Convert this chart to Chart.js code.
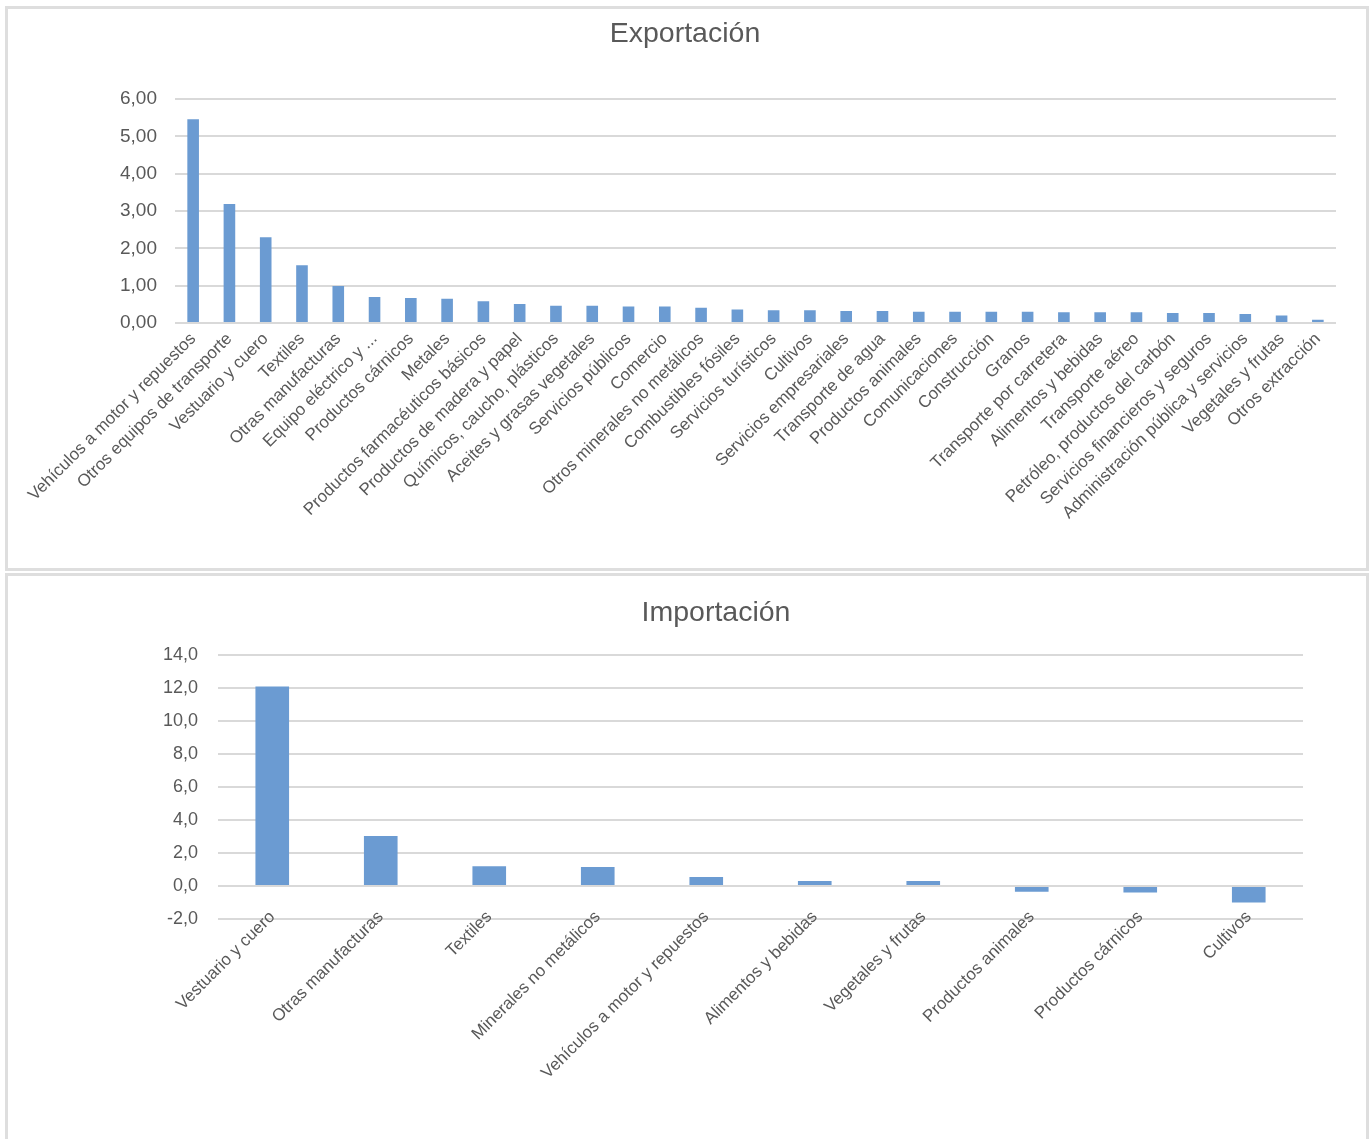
<!DOCTYPE html>
<html>
<head>
<meta charset="utf-8">
<script src="https://cdn.jsdelivr.net/npm/chart.js@4"></script>
<style>
    body { margin: 0; background: #fff; overflow: hidden; }
    .panel { position: absolute; left: 5px; width: 1364px; box-sizing: border-box; border: 3px solid #dedede; background: #fff; }
    .top { top: 6px; height: 565px; }
    .bottom { top: 573px; height: 600px; }
    .box { position: relative; width: 1358px; height: 559px; }
</style>
</head>
<body>
<div class="panel top"><div class="box"><canvas class="exp-chart"></canvas></div></div>
<div class="panel bottom"><div class="box"><canvas class="imp-chart"></canvas></div></div>
<script>
const expLabels = ['Vehículos a motor y repuestos', 'Otros equipos de transporte', 'Vestuario y cuero', 'Textiles',
    'Otras manufacturas', 'Equipo eléctrico y ...', 'Productos cárnicos', 'Metales', 'Productos farmacéuticos básicos',
    'Productos de madera y papel', 'Químicos, caucho, plásticos', 'Aceites y grasas vegetales', 'Servicios públicos',
    'Comercio', 'Otros minerales no metálicos', 'Combustibles fósiles', 'Servicios turísticos', 'Cultivos',
    'Servicios empresariales', 'Transporte de agua', 'Productos animales', 'Comunicaciones', 'Construcción', 'Granos',
    'Transporte por carretera', 'Alimentos y bebidas', 'Transporte aéreo', 'Petróleo, productos del carbón',
    'Servicios financieros y seguros', 'Administración pública y servicios', 'Vegetales y frutas', 'Otros extracción'];
const expValues = [5.46, 3.19, 2.30, 1.55, 0.99, 0.70, 0.67, 0.65, 0.58, 0.51, 0.46, 0.46, 0.44, 0.44, 0.41, 0.36,
    0.34, 0.34, 0.32, 0.32, 0.30, 0.30, 0.30, 0.30, 0.29, 0.29, 0.29, 0.27, 0.27, 0.24, 0.20, 0.09];
const expTicks = [0, 1, 2, 3, 4, 5, 6];

const impLabels = ['Vestuario y cuero', 'Otras manufacturas', 'Textiles', 'Minerales no metálicos',
    'Vehículos a motor y repuestos', 'Alimentos y bebidas', 'Vegetales y frutas', 'Productos animales',
    'Productos cárnicos', 'Cultivos'];
const impValues = [12.1, 3.03, 1.2, 1.15, 0.55, 0.3, 0.3, -0.35, -0.4, -1.0];
const impTicks = [-2, 0, 2, 4, 6, 8, 10, 12, 14];

const grey = '#595959';
const barBlue = '#6b9bd2';
Chart.defaults.font.family = '"Liberation Sans", Arial, sans-serif';
Chart.defaults.color = grey;

function makeChart(el, cfg) {
    return new Chart(el, {
        type: 'bar',
        data: {
            labels: cfg.labels,
            datasets: [{
                data: cfg.values,
                backgroundColor: barBlue,
                borderWidth: 0,
                barPercentage: cfg.barPct,
                categoryPercentage: 1
            }]
        },
        options: {
            responsive: true,
            maintainAspectRatio: false,
            animation: false,
            layout: { padding: { left: cfg.padL, right: cfg.padR, top: 0, bottom: 0 } },
            scales: {
                x: {
                    grid: { display: false },
                    border: { display: false },
                    ticks: { autoSkip: false, maxRotation: 45, minRotation: 45, padding: cfg.xPad, font: { size: 17 } },
                    afterFit: s => {
                        s.height = cfg.xHeight;
                        s.paddingLeft = 0;
                        s.paddingRight = 0;
                        // labels sit partly above the axis line, so don't clip them to the scale box
                        s._computeLabelArea = () => undefined;
                    }
                },
                y: {
                    min: cfg.ticks[0],
                    max: cfg.ticks[cfg.ticks.length - 1],
                    afterBuildTicks: s => { s.ticks = cfg.ticks.map(v => ({ value: v })); },
                    grid: { color: '#d9d9d9', lineWidth: 2, drawTicks: false },
                    border: { display: false },
                    ticks: {
                        padding: cfg.yPad,
                        font: { size: cfg.yFont },
                        callback: v => v.toFixed(cfg.decimals).replace('.', ',')
                    },
                    afterFit: s => { s.width = cfg.yWidth; }
                }
            },
            plugins: {
                legend: { display: false },
                tooltip: { enabled: false },
                title: {
                    display: true,
                    text: cfg.title,
                    color: grey,
                    font: { size: 28.5, weight: 'normal' },
                    padding: { top: cfg.titleTop, bottom: cfg.titleBottom }
                }
            }
        }
    });
}

makeChart(document.querySelector('.exp-chart'), {
    labels: expLabels, values: expValues, ticks: expTicks, decimals: 2, title: 'Exportación',
    barPct: 0.32, padL: 26, padR: 30, yWidth: 141, yPad: 18, yFont: 19, xPad: -2, xHeight: 245,
    titleTop: 8, titleBottom: 48
});

makeChart(document.querySelector('.imp-chart'), {
    labels: impLabels, values: impValues, ticks: impTicks, decimals: 1, title: 'Importación',
    barPct: 0.31, padL: 121, padR: 63, yWidth: 89, yPad: 20, yFont: 18, xPad: -20, xHeight: 216,
    titleTop: 20, titleBottom: 25
});
</script>
</body>
</html>
